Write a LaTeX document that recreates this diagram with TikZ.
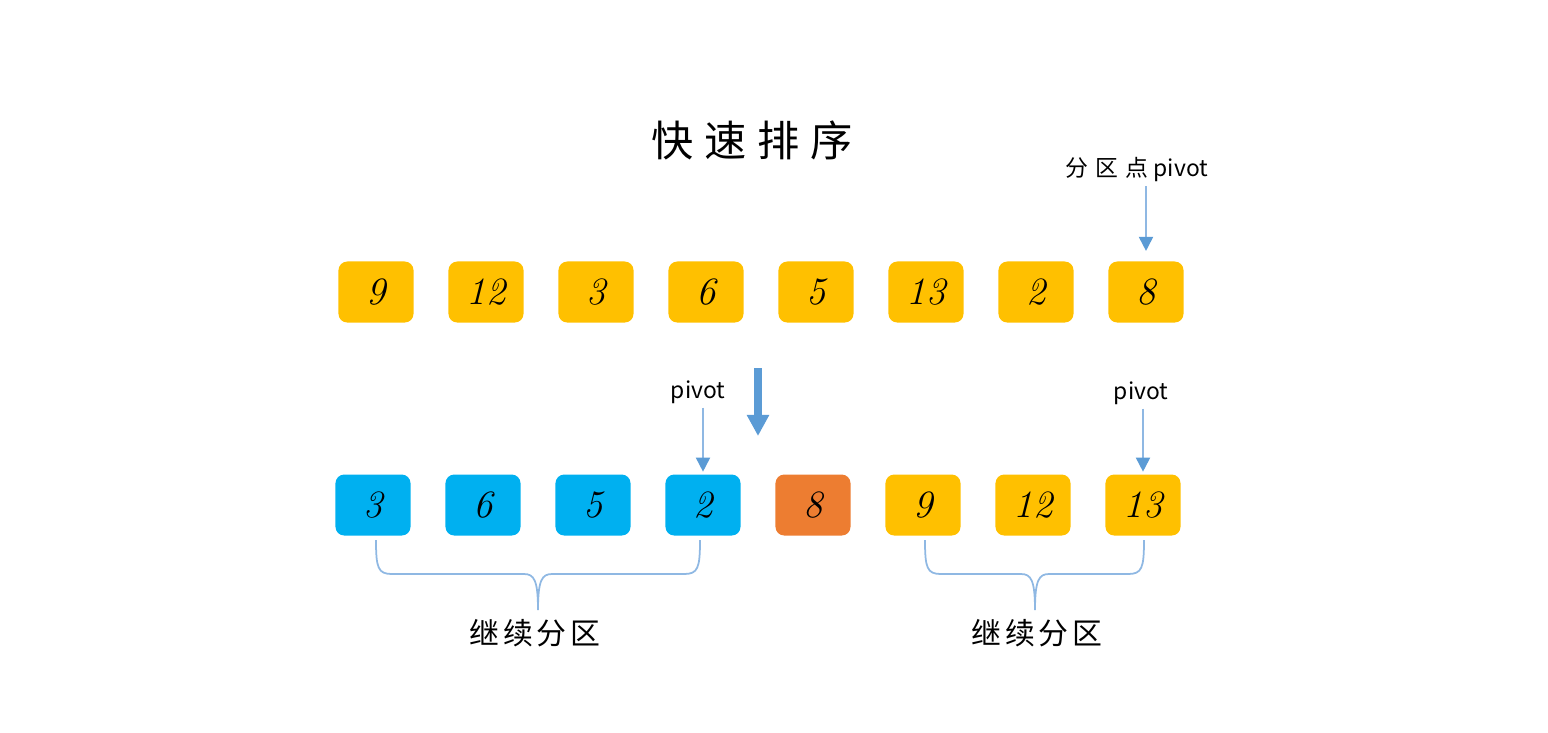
\documentclass[tikz,border=0pt]{standalone}
\usepackage{fontspec}
\newfontfamily\cjk{Noto Sans CJK SC}
\usetikzlibrary{arrows.meta}
\definecolor{gold}{HTML}{FFC000}
\definecolor{sky}{HTML}{00B0F0}
\definecolor{rust}{HTML}{ED7D31}
\definecolor{steel}{HTML}{5B9BD5}
\definecolor{pale}{HTML}{8FB8E3}
\tikzset{
 box/.style={rounded corners=2.5pt,minimum width=0.75cm,minimum height=0.61cm,inner sep=0pt,font=\fontsize{11}{11}\selectfont\itshape},
 note/.style={font=\cjk\fontsize{6.5}{7}\selectfont,inner sep=1pt},
 thinarrow/.style={draw=pale,line width=0.5pt,-{Triangle[width=4pt,length=4pt,color=steel]}},
 bigarrow/.style={draw=steel,line width=2pt,-{Triangle[width=6pt,length=6pt]}},
 brace/.style={draw=pale,line width=0.5pt}
}
\begin{document}
\begin{tikzpicture}[x=0.01cm,y=-0.01cm]
 \useasboundingbox (0,0) rectangle (1548,732);
 % title
 \node[font=\cjk\fontsize{12}{12}\selectfont] (title) at (752,140) {快\hspace{3pt}速\hspace{3pt}排\hspace{3pt}序};
 % first row
 \foreach \v/\c [count=\i] in {9/gold,12/gold,3/gold,6/gold,5/gold,13/gold,2/gold,8/gold}
  \node[box,fill=\c] (a\i) at ({376+110*(\i-1)},292) {\v};
 % second row
 \foreach \v/\c [count=\i] in {3/sky,6/sky,5/sky,2/sky,8/rust,9/gold,12/gold,13/gold}
  \node[box,fill=\c] (b\i) at ({373+110*(\i-1)},505) {\v};
 % pivot labels
 \node[note] (p1) at (1137,170) {分\hspace{2pt}区\hspace{2pt}点 pivot};
 \node[note] (p2) at (698,392) {pivot};
 \node[note] (p3) at (1141,393) {pivot};
 \draw[thinarrow,shorten >=2.8pt] (p1.south -| a8.north) -- (a8.north);
 \draw[thinarrow,shorten >=0.6pt] (p2.south -| b4.north) -- (b4.north);
 \draw[thinarrow,shorten >=0.6pt] (p3.south -| b8.north) -- (b8.north);
 % step arrow
 \coordinate (s) at (758,368);
 \coordinate (e) at (758,436);
 \draw[bigarrow] (s) -- (e);
 % braces
 \draw[brace] (376,540) .. controls (376,568) and (378,574) .. (392,574) -- (524,574)
   .. controls (534,574) and (538,580) .. (538,610)
   .. controls (538,580) and (542,574) .. (552,574) -- (684,574)
   .. controls (698,574) and (700,568) .. (700,540);
 \draw[brace] (925,540) .. controls (925,568) and (927,574) .. (941,574) -- (1021,574)
   .. controls (1031,574) and (1035,580) .. (1035,610)
   .. controls (1035,580) and (1039,574) .. (1049,574) -- (1128,574)
   .. controls (1142,574) and (1144,568) .. (1144,540);
 \node[font=\cjk\fontsize{8.5}{9}\selectfont] (l1) at (535,633) {继\hspace{1pt}续\hspace{1pt}分\hspace{1pt}区};
 \node[font=\cjk\fontsize{8.5}{9}\selectfont] (l2) at (1037,633) {继\hspace{1pt}续\hspace{1pt}分\hspace{1pt}区};
\end{tikzpicture}
\end{document}
